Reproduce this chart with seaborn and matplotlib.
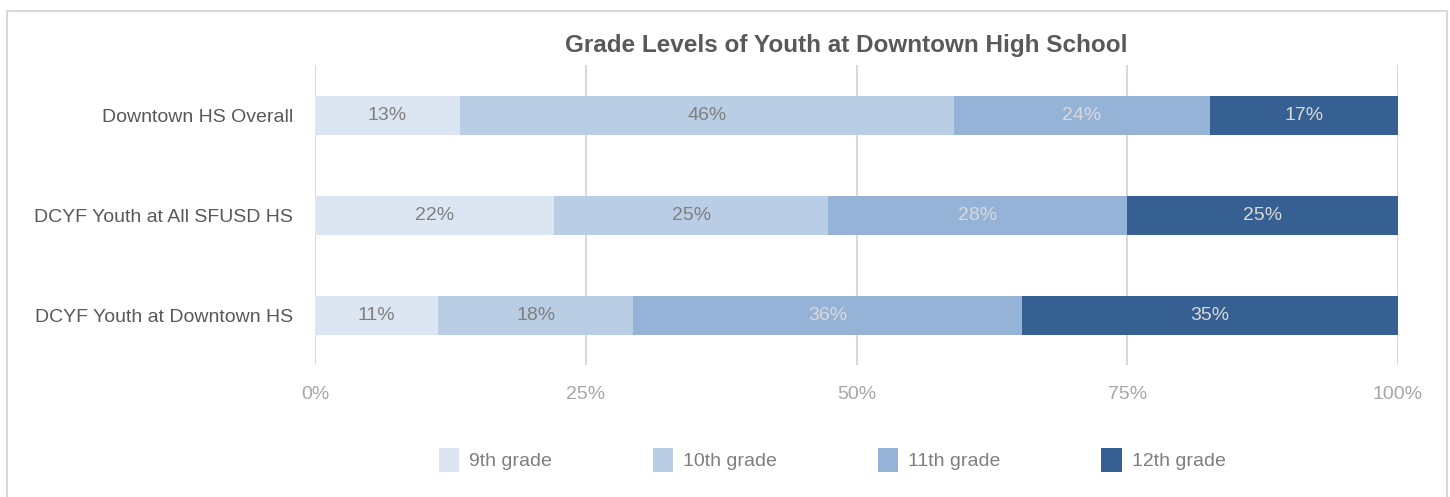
import numpy as np
import pandas as pd
import matplotlib.pyplot as plt
import seaborn as sns
from matplotlib.patches import Patch
from matplotlib.lines import Line2D

# Data (percent of youth by grade)
groups = ["Downtown HS Overall", "DCYF Youth at All SFUSD HS", "DCYF Youth at Downtown HS"]
grades = ["9th grade", "10th grade", "11th grade", "12th grade"]
grade_9 = [13.4, 22.1, 11.4]
grade_10 = [45.6, 25.3, 18.0]
grade_11 = [23.6, 27.6, 35.9]
grade_12 = [17.4, 25.0, 34.7]
x_ticks = [0, 25, 50, 75, 100]

colors = ["#DCE6F2", "#B9CDE5", "#95B3D7", "#376092"]
label_colors = ["#7F7F7F", "#7F7F7F", "#D9D9D9", "#D9D9D9"]

sns.set_style("white")
plt.rcParams['font.family'] = ['Liberation Sans', 'DejaVu Sans']
fs = 14

df = pd.DataFrame({"group": groups, grades[0]: grade_9, grades[1]: grade_10,
                   grades[2]: grade_11, grades[3]: grade_12})
cum = df[grades].cumsum(axis=1)

W, H = 1450, 497
fig = plt.figure(figsize=(W / 100, H / 100), dpi=100)
ax = fig.add_axes([315 / W, 1 - 365 / H, (1398 - 315) / W, 300 / H])

# stacked bars: draw cumulative totals from the right-most segment back
for i in range(len(grades) - 1, -1, -1):
    sns.barplot(x=cum[grades[i]], y=df["group"], color=colors[i], orient="h",
                width=0.39, ax=ax, saturation=1, edgecolor="none")

# segment labels
for i, g in enumerate(grades):
    left = cum[g] - df[g]
    for j, (l, v) in enumerate(zip(left, df[g])):
        ax.text(l + v / 2, j, f"{round(v):.0f}%", ha="center", va="center",
                fontsize=fs, color=label_colors[i])

ax.set_xlim(0, 100)
ax.set_ylim(2.5, -0.5)
ax.set_xticks(x_ticks)
ax.set_xticklabels([f"{t}%" for t in x_ticks])
ax.xaxis.grid(True, color="#D9D9D9", linewidth=1.5)
ax.set_axisbelow(True)
for s in ax.spines.values():
    s.set_visible(False)
ax.tick_params(axis="x", colors="#A6A6A6", labelsize=fs, length=0, pad=15)
ax.tick_params(axis="y", colors="#595959", labelsize=fs, length=0, pad=16)
ax.set_xlabel("")
ax.set_ylabel("")

fig.text(846 / W, 1 - 46 / H, "Grade Levels of Youth at Downtown High School",
         ha="center", va="center", fontsize=17.5, fontweight="bold", color="#595959")

handles = [Patch(facecolor=c, edgecolor="none") for c in colors]
fig.legend(handles, grades, loc="center", bbox_to_anchor=(832 / W, 1 - 460 / H),
           ncol=4, frameon=False, fontsize=fs, labelcolor="#7F7F7F",
           handlelength=1.05, handleheight=1.45, handletextpad=0.5, columnspacing=5.2)

# outer chart border (left, top, right)
bx = [7 / W, 7 / W, 1447 / W, 1447 / W]
by = [0, 1 - 11 / H, 1 - 11 / H, 0]
fig.lines.append(Line2D(bx, by, transform=fig.transFigure, color="#D9D9D9", linewidth=1.5))

fig.savefig("out.png", dpi=100)
